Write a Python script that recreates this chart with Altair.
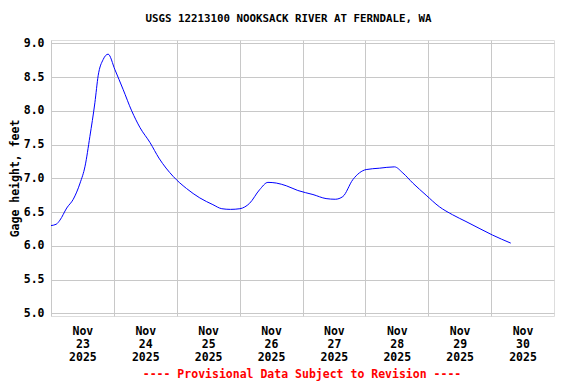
import altair as alt
import pandas as pd

# hours since 2025-11-23 00:00 and gage height (ft)
hours = [0, 2, 3.4, 6.0, 8.5, 11.1, 13.0, 14.84, 16.75, 18.0, 19.9, 21.8, 24.4,
         27.5, 30.8, 34.0, 37.8, 41.2, 46.6, 51.7, 56.8, 61.8, 65.2, 68.5, 72.1,
         75.8, 79.6, 82.8, 86.0, 89.8, 94.2, 100.0, 105.0, 108.5, 111.4, 115.2,
         120.3, 125.3, 131.1, 134.3, 138.1, 143.2, 148.2, 153.3, 158.4, 163.4,
         168.5, 175.5]
heights = [6.30, 6.32, 6.38, 6.56, 6.69, 6.93, 7.18, 7.62, 8.12, 8.52, 8.76, 8.84,
           8.61, 8.32, 8.00, 7.75, 7.53, 7.30, 7.03, 6.85, 6.71, 6.61, 6.55,
           6.54, 6.55, 6.63, 6.83, 6.94, 6.93, 6.89, 6.82, 6.76, 6.70, 6.69, 6.73,
           6.98, 7.13, 7.15, 7.17, 7.08, 6.93, 6.75, 6.58, 6.46, 6.36, 6.26, 6.16,
           6.04]

y_ticks = [5.0, 5.5, 6.0, 6.5, 7.0, 7.5, 8.0, 8.5, 9.0]
day_ticks = [23, 24, 25, 26, 27, 28, 29, 30]

base = pd.Timestamp("2025-11-23 00:00:00")
times = [(base + pd.to_timedelta(h, unit="h")).strftime("%Y-%m-%dT%H:%M:%SZ") for h in hours]
df = pd.DataFrame({"t": times, "gh": heights})

FONT = "DejaVu Sans Mono"

x_axis = alt.Axis(
    values=[alt.DateTime(year=2025, month=11, date=d, utc=True) for d in day_ticks],
    labelExpr="[utcFormat(datum.value, '%b'), utcFormat(datum.value, '%d'), utcFormat(datum.value, '%Y')]",
    labelOffset=31.4,
    labelAlign="center",
    labelBaseline="top",
    labelLineHeight=13,
    labelPadding=9,
    labelFont=FONT,
    labelFontWeight="bold",
    labelFontSize=11.5,
    labelColor="black",
    ticks=False,
    domain=False,
    grid=True,
    gridColor="#c8c8c8",
    gridWidth=1,
    labelFlush=False,
    labelOverlap=False,
    title=None,
)

y_axis = alt.Axis(
    values=y_ticks,
    format=".1f",
    labelFont=FONT,
    labelFontWeight="bold",
    labelFontSize=11.5,
    labelColor="black",
    labelPadding=7,
    ticks=False,
    domain=False,
    grid=True,
    gridColor="#c8c8c8",
    gridWidth=1,
    title="Gage height, feet",
    titleFont=FONT,
    titleFontWeight="bold",
    titleFontSize=11.5,
    titleColor="black",
    titlePadding=3,
)

line = alt.Chart(df).mark_line(color="#0000ff", strokeWidth=1, interpolate="monotone").encode(
    x=alt.X("t:T", scale=alt.Scale(type="utc",
                                   domain=[alt.DateTime(year=2025, month=11, date=23, utc=True),
                                           alt.DateTime(year=2025, month=12, date=1, utc=True)]),
            axis=x_axis),
    y=alt.Y("gh:Q", scale=alt.Scale(domain=[4.96, 9.05], nice=False, zero=False), axis=y_axis),
)

footer = alt.Chart(pd.DataFrame({"txt": ["---- Provisional Data Subject to Revision ----"]})).mark_text(
    font=FONT, fontWeight="bold", fontSize=11.5, color="red", align="center", baseline="middle"
).encode(
    text="txt:N",
    x=alt.value(251),
    y=alt.value(335),
)

chart = alt.layer(line, footer).properties(
    width=503,
    height=276,
    title=alt.TitleParams(
        "USGS 12213100 NOOKSACK RIVER AT FERNDALE, WA",
        font=FONT, fontWeight="bold", fontSize=10.8, color="black",
        anchor="middle", frame="group", dx=-14, offset=14,
    ),
    autosize="none",
    padding={"left": 43, "top": 32, "right": 14, "bottom": 66},
).configure_view(
    stroke="black", strokeWidth=1.2
).configure(background="white")

chart.save("out.html", embed_options={"renderer": "svg", "actions": False})
